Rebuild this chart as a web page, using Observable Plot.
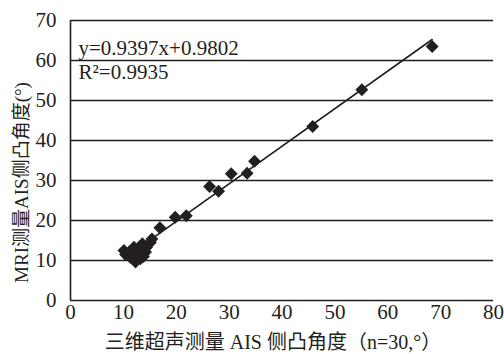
<!DOCTYPE html>
<html><head><meta charset="utf-8">
<script src="https://cdn.jsdelivr.net/npm/d3@7"></script>
<script src="https://cdn.jsdelivr.net/npm/@observablehq/plot@0.6"></script>
<style>body{margin:0;background:#fff}</style>
</head><body><div id="chart"></div>
<script>
const xTicks = [0, 10, 20, 30, 40, 50, 60, 70, 80];
const yTicks = [0, 10, 20, 30, 40, 50, 60, 70];
const usAngle = [68.4, 55.1, 45.8, 34.8, 33.4, 30.4, 26.3, 28.0, 21.9, 19.8, 16.9, 15.4, 13.6, 12.0, 10.1, 11.3, 13.2, 14.2, 12.3, 11.0, 12.9, 12.5, 14.4, 10.4, 13.8, 11.7, 15.1, 12.0, 13.0, 11.5];
const mriAngle = [63.5, 52.7, 43.5, 34.8, 31.8, 31.7, 28.5, 27.3, 21.2, 20.8, 18.2, 15.4, 14.2, 13.3, 12.5, 10.8, 10.4, 12.1, 9.6, 12.0, 12.8, 11.5, 13.3, 11.5, 11.0, 12.5, 14.5, 11.2, 12.0, 11.8];
const fitSlope = 0.9397, fitIntercept = 0.9802;
const fitRange = [10.1, 68.4];
const eqLabels = ["y=0.9397x+0.9802", "R²=0.9935"];
const xTitle = "三维超声测量 AIS 侧凸角度（n=30,°）";
const yTitle = "MRI测量AIS侧凸角度(°)";

const points = usAngle.map((x, i) => ({x, y: mriAngle[i]}));
const fit = fitRange.map(x => ({x, y: fitSlope * x + fitIntercept}));
const ink = "#231f20";

const chart = Plot.plot({
  width: 504, height: 354,
  marginLeft: 70, marginRight: 11, marginTop: 20, marginBottom: 54,
  style: {fontFamily: "'Liberation Serif','Noto Sans CJK SC',serif", fontSize: "20px", color: ink, background: "#fff"},
  x: {domain: [0, 80], axis: null},
  y: {domain: [0, 70], axis: null},
  marks: [
    Plot.ruleY(yTicks, {stroke: ink, strokeWidth: 1.6}),
    Plot.ruleX([0], {stroke: ink, strokeWidth: 1.6}),
    Plot.text(xTicks, {x: d => d, frameAnchor: "bottom", dy: 12, textAnchor: "middle", lineAnchor: "middle", fontSize: 21, fill: ink}),
    Plot.text(yTicks, {y: d => d, frameAnchor: "left", dx: -14, textAnchor: "end", lineAnchor: "middle", fontSize: 21, fill: ink}),
    Plot.line(fit, {x: "x", y: "y", stroke: ink, strokeWidth: 1.6}),
    Plot.dot(points, {x: "x", y: "y", symbol: "diamond2", fill: ink, stroke: "none", r: 5.8}),
    Plot.text([eqLabels[0]], {frameAnchor: "top-left", dx: 8, dy: 34, textAnchor: "start", lineAnchor: "bottom", fontSize: 21, fill: ink}),
    Plot.text([eqLabels[1]], {frameAnchor: "top-left", dx: 8, dy: 58, textAnchor: "start", lineAnchor: "bottom", fontSize: 21, fill: ink}),
    Plot.text([xTitle], {frameAnchor: "bottom", dx: -9, dy: 42, textAnchor: "middle", lineAnchor: "middle", fontSize: 20, fill: ink}),
    Plot.text([yTitle], {frameAnchor: "left", dx: -49, dy: 22, textAnchor: "middle", rotate: -90, lineAnchor: "middle", fontSize: 19, fill: ink})
  ]
});
document.getElementById("chart").appendChild(chart);
</script>
</body></html>
